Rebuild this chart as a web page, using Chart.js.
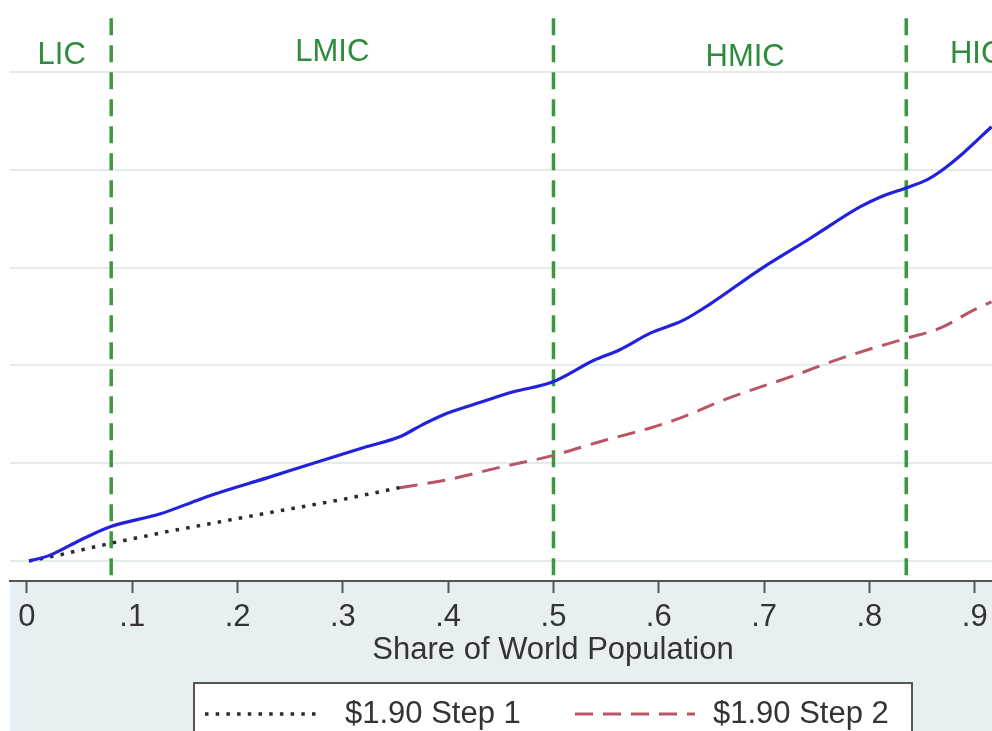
<!DOCTYPE html>
<html><head><meta charset="utf-8">
<script src="https://cdn.jsdelivr.net/npm/chart.js@4.4.1/dist/chart.umd.min.js"></script>
<style>
html,body{margin:0;padding:0;overflow:hidden;background:#fff;width:992px;height:731px;}
#wrap{position:absolute;left:0;top:0;width:1096px;height:760px;}
</style></head><body>
<div id="wrap"><canvas id="c" width="1096" height="760"></canvas></div>
<script>
// ---- data ----
const xTickValues = [0, 0.1, 0.2, 0.3, 0.4, 0.5, 0.6, 0.7, 0.8, 0.9];
const xTickLabels = ['0', '.1', '.2', '.3', '.4', '.5', '.6', '.7', '.8', '.9'];
const yGridValues = [0, 1, 2, 3, 4, 5];

const totalX = [0.002, 0.022, 0.05, 0.079, 0.126, 0.164, 0.18, 0.228, 0.275, 0.323, 0.354, 0.375, 0.399, 0.43, 0.462, 0.499, 0.538, 0.563, 0.592, 0.623, 0.649, 0.696, 0.744, 0.791, 0.81, 0.836, 0.855, 0.867, 0.889, 0.916];
const totalY = [0, 0.06, 0.21, 0.35, 0.48, 0.63, 0.69, 0.85, 1.01, 1.17, 1.27, 1.39, 1.51, 1.62, 1.73, 1.83, 2.05, 2.16, 2.33, 2.46, 2.63, 2.98, 3.30, 3.62, 3.72, 3.82, 3.90, 3.98, 4.17, 4.44];

const step1X = [0.002, 0.03, 0.079, 0.133, 0.228, 0.3, 0.354];
const step1Y = [0, 0.06, 0.18, 0.30, 0.49, 0.63, 0.75];

const step2X = [0.354, 0.399, 0.446, 0.5, 0.544, 0.592, 0.62, 0.665, 0.727, 0.775, 0.836, 0.867, 0.898, 0.916];
const step2Y = [0.75, 0.83, 0.95, 1.08, 1.22, 1.36, 1.46, 1.66, 1.89, 2.08, 2.28, 2.38, 2.56, 2.65];

const seriesLabels = ['$1.90 Step 1', '$1.90 Step 2'];

const regionBounds = [0.08, 0.5, 0.835];
const regionLabels = ['LIC', 'LMIC', 'HMIC', 'HIC'];
const regionLabelX = [0.033, 0.29, 0.682, 0.8765];
const regionLabelY = [5.17, 5.2, 5.15, 5.18];
const regionLabelAlign = ['center', 'center', 'center', 'left'];

// ---- layout constants ----
const xMin = -0.0161, xMax = 1.0152;
const yMin = -0.2045, yMax = 5.634;
const vLineTop = 5.55;
const FONT = 'Liberation Sans, Arial, sans-serif';
const FS = 31;

const pts = (xs, ys) => xs.map((x, i) => ({x, y: ys[i]}));

const datasets = [
  {label: '', data: pts(totalX, totalY), borderColor: '#2222dd', borderWidth: 3.2, cubicInterpolationMode: 'monotone', pointRadius: 0, fill: false},
  {label: seriesLabels[0], data: pts(step1X, step1Y), borderColor: '#2a2a2a', borderWidth: 3.5, borderDash: [3.5, 7.2], pointRadius: 0, fill: false, legendShow: true},
  {label: seriesLabels[1], data: pts(step2X, step2Y), borderColor: '#bb5566', borderWidth: 3, borderDash: [18, 10], cubicInterpolationMode: 'monotone', pointRadius: 0, fill: false, legendShow: true},
];
regionBounds.forEach(b => datasets.push({
  label: '', data: [{x: b, y: vLineTop}, {x: b, y: yMin}], borderColor: '#3a9a3a', borderWidth: 3.5, borderDash: [17, 10], pointRadius: 0, fill: false
}));

const bgPlugin = {
  id: 'bg',
  beforeDraw(chart) {
    const {ctx, width, height, chartArea} = chart;
    ctx.save();
    ctx.fillStyle = '#ffffff';
    ctx.fillRect(0, 0, width, height);
    ctx.fillStyle = '#e8eff3';
    ctx.fillRect(chartArea.left, chartArea.bottom, width - chartArea.left, height - chartArea.bottom);
    ctx.restore();
  }
};

const regionPlugin = {
  id: 'regions',
  afterDatasetsDraw(chart) {
    const {ctx, scales: {x, y}} = chart;
    ctx.save();
    ctx.font = FS + 'px ' + FONT;
    ctx.fillStyle = '#2e8b3c';
    ctx.textBaseline = 'middle';
    regionLabels.forEach((t, i) => {
      ctx.textAlign = regionLabelAlign[i];
      ctx.fillText(t, x.getPixelForValue(regionLabelX[i]), y.getPixelForValue(regionLabelY[i]));
    });
    ctx.restore();
  }
};

const legendPlugin = {
  id: 'legendBox',
  afterDraw(chart) {
    const {ctx} = chart;
    const box = {left: 194, top: 683, right: 912, bottom: 760};
    ctx.save();
    ctx.fillStyle = '#ffffff';
    ctx.fillRect(box.left, box.top, box.right - box.left, box.bottom - box.top);
    ctx.strokeStyle = '#555';
    ctx.lineWidth = 2;
    ctx.strokeRect(box.left, box.top, box.right - box.left, box.bottom - box.top);
    const items = chart.data.datasets.filter(d => d.legendShow);
    const slots = [{x0: 205, x1: 320, tx: 345}, {x0: 575, x1: 695, tx: 713}];
    const cy = 714;
    items.forEach((d, i) => {
      const s = slots[i];
      ctx.beginPath();
      ctx.strokeStyle = d.borderColor;
      ctx.lineWidth = d.borderWidth;
      ctx.setLineDash(d.borderDash || []);
      ctx.moveTo(s.x0, cy);
      ctx.lineTo(s.x1, cy);
      ctx.stroke();
      ctx.setLineDash([]);
      ctx.fillStyle = '#333';
      ctx.font = FS + 'px ' + FONT;
      ctx.textBaseline = 'middle';
      ctx.textAlign = 'left';
      ctx.fillText(d.label, s.tx, cy);
    });
    ctx.restore();
  }
};

new Chart(document.getElementById('c'), {
  type: 'line',
  data: {datasets},
  plugins: [bgPlugin, regionPlugin, legendPlugin],
  options: {
    responsive: false,
    animation: false,
    devicePixelRatio: 1,
    layout: {padding: {top: 10, left: 10, right: 0, bottom: 0}},
    plugins: {legend: {display: false}, tooltip: {enabled: false}},
    elements: {point: {radius: 0}, line: {tension: 0}},
    scales: {
      x: {
        type: 'linear', min: xMin, max: xMax,
        afterBuildTicks: s => { s.ticks = xTickValues.map(v => ({value: v})); },
        afterFit: s => { s.height = 179; },
        ticks: {
          callback: v => xTickLabels[xTickValues.indexOf(v)],
          color: '#333', font: {family: FONT, size: FS}, padding: 6, maxRotation: 0, autoSkip: false
        },
        grid: {display: true, drawOnChartArea: false, drawTicks: true, tickLength: 12, tickWidth: 2, tickColor: '#555'},
        border: {display: true, color: '#555', width: 2},
        title: {display: true, text: 'Share of World Population', color: '#333', font: {family: FONT, size: FS}, padding: {top: 0, bottom: 91}}
      },
      y: {
        type: 'linear', min: yMin, max: yMax,
        afterBuildTicks: s => { s.ticks = yGridValues.map(v => ({value: v})); },
        afterFit: s => { s.width = 0; },
        ticks: {display: false},
        grid: {color: '#e4ebee', lineWidth: 2, drawTicks: false},
        border: {display: false}
      }
    }
  }
});
</script>
</body></html>
